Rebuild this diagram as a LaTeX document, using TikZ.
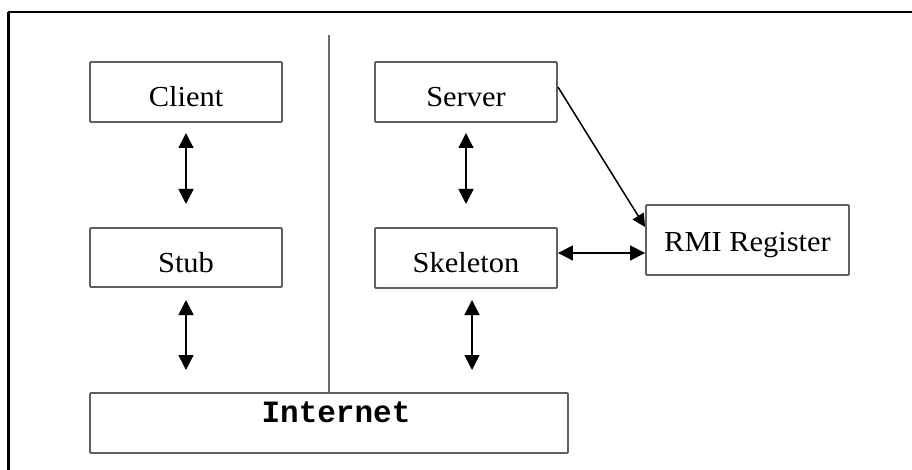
\documentclass[tikz,border=0pt]{standalone}
\usepackage{fontspec}
\setmainfont{Liberation Serif}[FakeStretch=1.05]
\newfontfamily\inetfont{Liberation Mono}
\usetikzlibrary{arrows.meta}
\begin{document}
\begin{tikzpicture}[x=1pt,y=-1pt,
  box/.style={draw=black!62,line width=1.9pt,rounded corners=1pt,rectangle,inner sep=0pt,
    font=\fontsize{29}{32}\selectfont,text height=29pt,text depth=0pt},
  conn/.style={line width=1.5pt,{Triangle[length=15pt,width=15pt]}-{Triangle[length=15pt,width=15pt]}},
  oneway/.style={line width=1.5pt,-{Triangle[length=13pt,width=13pt]}}]
\useasboundingbox (0,0) rectangle (912,470);
\fill[white] (0,0) rectangle (912,470);
% outer frame
\draw[line width=1.2pt] (912,12) -- (8.5,12) -- (8.5,470);
\draw[line width=2.4pt] (8.5,12) -- (8.5,470);
% nodes
\node[box,minimum width=192pt,minimum height=60pt] (client) at (186,92) {Client};
\node[box,minimum width=192pt,minimum height=59pt] (stub) at (186,257.5) {Stub};
\node[box,minimum width=182pt,minimum height=60pt] (server) at (466,92) {Server};
\node[box,minimum width=182pt,minimum height=60pt] (skel) at (466,258) {Skeleton};
\node[box,minimum width=203pt,minimum height=70pt,text height=23pt] (rmi) at (747.5,240) {RMI Register};
\node[box,minimum width=478pt,minimum height=60pt] (inet) at (329,423) {};
\node[font=\inetfont\bfseries\fontsize{31}{34}\selectfont,inner sep=0pt] (inettext) at (336,412) {Internet};
% divider
\coordinate (divtop) at (329,35);
\draw[draw=black!58,line width=2.2pt] (divtop) -- (inet.north -| divtop);
% arrows
\draw[conn] (186,133) -- (186,204);
\draw[conn] (186,300) -- (186,370);
\draw[conn] (466,133) -- (466,204);
\draw[conn] (472,300) -- (472,370);
\draw[oneway] (server.east |- 0,87) -- (rmi.west |- 0,227);
\draw[conn] (skel.east |- 0,253) -- (rmi.west |- 0,253);
\end{tikzpicture}
\end{document}
